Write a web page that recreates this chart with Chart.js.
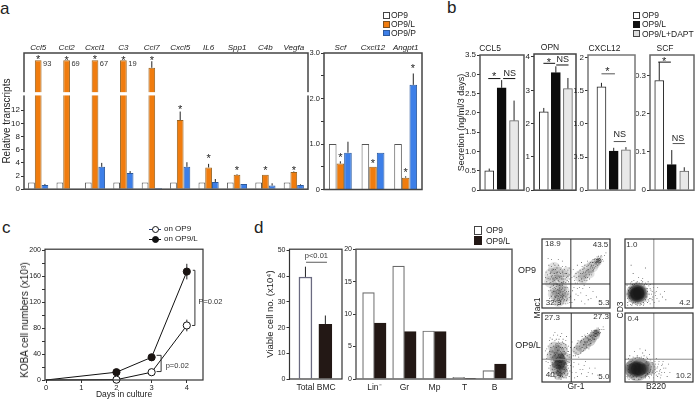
<!DOCTYPE html>
<html>
<head>
<meta charset="utf-8">
<title>Figure</title>
<script src="https://cdn.jsdelivr.net/npm/chart.js"></script>
<style>
html,body{margin:0;padding:0;background:#fff;overflow:hidden}
#page{position:relative;width:695px;height:400px;font-family:"Liberation Sans",Arial,sans-serif;color:#222}
#page canvas{position:absolute}
.lab{position:absolute;line-height:1;white-space:nowrap}
.sw{position:absolute;box-sizing:border-box}
</style>
</head>
<body>
<div id="page"></div>
<script>
// panel a
var genes = ["Ccl5","Ccl2","Cxcl1","C3","Ccl7","Cxcl5","IL6","Spp1","C4b","Vegfa"];
var a_op9 = [1,1,1,1,1,1,1,1,1,1];
var a_op9l = [19.6,19.6,19.6,19.6,18.45,10.5,3.3,2.2,2.2,2.6]; // first ones run off the broken axis
var a_op9p = [0.65,0.05,3.4,2.45,0.2,3.4,1.1,0.8,0.55,0.65];
var a_op9l_err = [null,null,null,null,19.45,11.8,3.85,2.3,null,2.7];
var a_op9p_err = [0.8,null,4.0,2.75,null,4.1,1.55,null,0.9,0.75];
var a_stars = [20.1,20,20.1,20,20,12.5,5,3.2,3.2,3.3];
var a_folds = ["93","69","67","19"];
var a_ticks = [0,2,4,6,8,10,12];

var genes2 = ["Scf","Cxcl12","Angpt1"];
var a2_op9 = [1,1,1];
var a2_op9l = [0.57,0.5,0.26];
var a2_op9p = [0.81,0.81,2.3];
var a2_op9l_err = [0.62,null,0.29];
var a2_op9p_err = [1.05,null,2.55];
var a2_stars_l = [0.75,0.62,0.42];
var a2_ticks = [0,0.5,1,1.5,2,2.5,3];
var a2_labels = ["0","","1.0","","2.0","","3.0"];

// panel b
var b_ccl5 = [0.5,2.65,1.8], b_ccl5_err = [0.56,2.85,2.32];
var b_opn = [2.35,3.53,3.05], b_opn_err = [2.47,3.72,3.37];
var b_cxcl12 = [1.56,0.59,0.61], b_cxcl12_err = [1.62,0.64,0.65];
var b_scf = [0.287,0.067,0.05], b_scf_err = [0.335,0.105,0.06];

// panel c
var days = [0,2,3,4];
var c_op9 = [0,0.5,12,84], c_op9_hi = [null,null,null,93], c_op9_lo = [null,null,null,75];
var c_op9l = [0,12,35,167], c_op9l_hi = [null,null,null,179], c_op9l_lo = [null,null,null,155];

// panel d
var d_total_op9 = [39.7], d_total_op9l = [21.3];
var d_total_op9_err = [43.7], d_total_op9l_err = [24.7];
var lineages = ["Lin\u207B","Gr","Mp","T","B"];
var d_op9 = [13.3,17.4,7.4,0.25,1.3];
var d_op9l = [8.6,7.3,7.3,0.1,2.3];

// flow plots, read in percent of the plot box
var flow1 = [[12,30],[15,22],[18,12],[20,28],[22,18],[24,8],[25,25],[27,15],[28,32],[30,20],[32,10],[33,26],[35,16],[37,30],[38,7],[14,17],[17,33],[19,6],[21,22],[23,13],[26,20],[29,27],[31,14],[34,22],[36,11],[39,24],[10,25],[13,10],[16,28],[28,9],[24,17],[26,12],[22,25],[30,16],[25,5],[20,15],
[8,48],[10,55],[12,42],[14,60],[16,38],[18,50],[20,44],[22,58],[24,40],[26,52],[28,46],[30,60],[32,38],[34,50],[36,44],[38,55],[11,36],[15,47],[19,62],[23,35],[27,56],[31,42],[35,37],[6,52],[40,48],[17,56],[21,51],[13,52],[25,46],[29,37],
[48,40],[50,50],[52,36],[54,46],[56,55],[58,42],[60,50],[62,58],[64,44],[66,54],[68,62],[70,48],[72,60],[74,66],[76,56],[78,64],[80,70],[82,62],[84,72],[86,66],[88,74],[84,66],[82,68],[80,64],[86,70],[78,68],[76,62],[74,58],[72,52],[70,64],[68,56],[66,60],[64,52],[62,46],[60,56],[92,76],[90,68],[46,56],[44,44],[83,75],[85,69],[81,66],[79,60],[75,70],
[45,25],[50,20],[55,30],[48,12],[60,28],[65,18],[70,30],[72,14],[58,10],[52,28]];
var flow1b = [[11,14],[13,26],[15,8],[16,19],[17,24],[18,30],[19,17],[20,9],[21,31],[22,11],[23,27],[24,21],[25,14],[26,29],[27,6],[27,23],[28,18],[29,12],[30,33],[31,24],[31,7],[32,18],[33,12],[34,30],[35,6],[36,24],[37,13],[38,20],[40,15],[41,8],[23,4],[19,24],[22,34],[26,33],[30,29],
[5,44],[7,38],[9,43],[10,62],[12,50],[13,37],[14,45],[15,55],[16,42],[17,64],[18,40],[19,47],[20,56],[21,36],[22,43],[23,52],[24,62],[25,38],[26,44],[27,50],[28,58],[29,42],[30,52],[31,36],[32,46],[33,56],[34,42],[35,60],[36,50],[37,40],[38,46],[39,38],[40,58],[41,42],[24,70],[14,70],[30,68],[9,72],
[47,46],[49,36],[51,44],[53,52],[55,40],[57,50],[59,38],[59,60],[61,52],[63,40],[63,62],[65,48],[67,44],[67,68],[69,52],[71,58],[71,66],[73,48],[73,62],[75,54],[75,66],[77,58],[77,70],[79,66],[81,70],[81,74],[83,64],[83,70],[85,72],[85,64],[87,68],[87,76],[89,70],[80,67],[82,71],[84,69],[78,72],[86,74],[83,68],[81,68],[94,80],[70,42],[66,40],[58,66],[52,62],
[44,8],[47,30],[53,18],[57,22],[63,6],[68,12],[75,24],[80,16],[62,33],[42,17]];
var flow3 = [[10,20],[12,35],[14,12],[15,28],[16,45],[18,8],[18,22],[19,38],[20,55],[21,14],[22,30],[23,46],[24,6],[24,24],[25,62],[26,18],[26,36],[27,50],[28,10],[28,28],[29,42],[30,20],[30,58],[31,34],[32,14],[32,48],[33,26],[34,6],[34,40],[35,54],[36,18],[36,32],[37,10],[38,44],[38,24],[40,36],[41,16],[8,40],[9,52],[11,60],[13,50],[15,62],[17,68],[21,62],[6,30],[5,45],[23,68],[27,66],[31,62],[35,60],[39,52],[24,38],[26,28],[22,20],[28,16],[30,40],[27,8],[24,15],[20,30],[33,18],
[46,38],[48,50],[50,42],[52,56],[54,36],[56,48],[58,60],[60,44],[62,54],[64,66],[66,50],[68,60],[70,68],[72,56],[74,64],[76,72],[78,66],[80,74],[82,68],[84,76],[79,70],[77,62],[75,68],[81,78],[73,74],[71,62],[69,54],[67,64],[65,58],[63,48],[61,62],[86,72],[90,80],[44,58],
[46,22],[50,14],[54,26],[58,12],[62,24],[66,8],[70,20],[48,6],[56,18],[74,12]];
var flow3b = [[9,28],[10,14],[11,44],[12,24],[13,8],[13,40],[14,56],[15,18],[15,36],[16,26],[17,14],[17,32],[17,52],[18,42],[19,18],[19,28],[19,60],[20,6],[20,40],[21,24],[21,34],[21,50],[22,12],[22,42],[22,56],[23,16],[23,26],[23,36],[24,30],[24,52],[24,58],[25,10],[25,20],[25,40],[25,46],[26,6],[26,24],[26,32],[26,56],[27,14],[27,22],[27,36],[27,44],[28,4],[28,20],[28,34],[28,54],[29,12],[29,26],[29,48],[30,8],[30,32],[30,50],[31,18],[31,26],[31,44],[32,6],[32,22],[32,38],[32,56],[33,12],[33,34],[33,44],[34,28],[34,16],[34,50],[35,10],[35,22],[35,42],[36,26],[36,6],[36,48],[37,16],[37,38],[38,12],[38,30],[39,20],[39,44],[40,8],[40,28],[41,40],[42,24],[42,50],[7,34],[7,48],[12,64],[19,72],[29,70],[36,66],
[47,44],[49,38],[51,48],[53,40],[53,60],[55,52],[57,42],[57,58],[59,50],[59,66],[61,54],[61,46],[63,58],[63,68],[65,52],[65,64],[67,58],[67,70],[69,62],[69,48],[71,66],[71,56],[73,60],[73,68],[75,62],[75,72],[77,68],[77,74],[79,66],[79,74],[81,72],[81,68],[83,72],[83,78],[85,76],[85,70],[80,70],[78,70],[76,68],[88,76],[91,76],[72,72],
[44,14],[47,28],[52,8],[60,18],[64,30],[68,14],[78,20],[82,10]];
var flow2 = [[4,8],[6,30],[7,14],[8,36],[8,5],[10,38],[11,6],[13,40],[16,5],[18,38],[22,4],[24,40],[28,6],[30,36],[33,8],[35,32],[36,14],[38,26],[39,20],[40,12],[42,30],[43,8],[45,18],[46,24],[47,14],[48,30],[50,10],[52,20],[55,16],[58,24],[60,12],[37,34],[34,38],[26,43],[20,44],[12,50],[30,58],[9,62],[3,20],[3,33],[31,10],[34,20],[33,28],[6,10],[5,25],
[9,10],[10,30],[11,34],[12,8],[14,34],[15,8],[17,36],[19,7],[21,36],[23,6],[25,36],[27,8],[28,32],[30,12],[31,28],[32,16],[33,24],[34,12],[36,20],[37,28],[35,10],[29,34],[26,38],[16,36],[12,32],[8,28],[7,22],[7,18],[6,16],[40,24],[41,16],[44,22],[38,14],[32,34],[24,5],[18,4],[10,4],[4,14],[4,4],[27,4],[37,6]];
var flow4 = [[3,8],[4,24],[5,34],[6,4],[7,38],[10,6],[12,36],[14,4],[18,38],[22,4],[26,42],[30,6],[32,36],[35,8],[37,32],[39,10],[40,28],[42,6],[43,22],[45,14],[46,34],[48,8],[49,26],[51,16],[53,10],[54,24],[56,30],[58,14],[60,20],[62,8],[64,26],[66,14],[38,18],[36,40],[30,46],[22,48],[14,44],[44,30],[36,14],[34,24],[41,16],[47,20],
[8,10],[9,30],[11,32],[12,8],[15,34],[17,7],[21,35],[24,6],[27,34],[30,9],[32,30],[33,12],[35,26],[37,16],[39,22],[40,14],[41,26],[43,12],[44,18],[45,26],[46,10],[47,15],[48,22],[50,12],[50,30],[52,18],[54,14],[55,26],[57,20],[52,6],[28,38],[24,36],[18,36],[6,14],[6,26],[5,18],[4,6],[12,4],[20,4],[36,6],[33,34],[38,32]];
var flow1_haze = [[22,18,7],[28,14,7],[26,24,7],[20,28,6],[32,24,6],[24,10,6],[30,30,5],[16,20,5],[36,16,5],[14,48,7],[22,50,7],[30,46,7],[36,52,5],[12,38,6],[24,40,6],[18,58,6],[56,46,6],[62,50,6],[68,56,6],[74,60,6],[78,64,5],[82,67,4],[84,70,3],[83,69,2.5],[84,68,2.5],[60,42,5],[70,50,5]];
var flow3_haze = [[24,30,8],[26,20,8],[22,42,8],[28,48,7],[18,50,6],[34,34,6],[30,14,6],[20,20,6],[26,28,6],[27,34,5],[14,38,5],[24,10,5],[26,24,5],[28,30,6],[24,36,6],[28,18,5],[22,26,5],[30,24,5],[58,52,6],[64,56,6],[70,60,6],[74,64,5],[78,68,5],[80,71,4],[81,72,3],[80,72,2.5],[52,46,5]];
var flow2_haze = [[18,21,11],[18,21,9.5],[20,21,8.5],[16,21,8.5],[18,22,7.5],[18,20,7.5],[21,22,6.5],[15,20,6.5],[18,21,6.5],[18,21,6],[20,22,5.5],[16,20,5.5]];
var flow4_haze = [[18,19,12],[24,20,10],[12,19,9],[18,19,8.5],[14,19,7],[22,19,7],[18,19,7],[10,19,5.5],[26,19,5.5],[14,20,6],[22,18,6],[18,19,6],[35,20,7]];

Chart.defaults.font.family = '"Liberation Sans", Arial, sans-serif';
Chart.defaults.font.size = 8;
Chart.defaults.color = "#222";

var page = document.getElementById("page");

function label(text, x, y, size, extra) {
  var d = document.createElement("div");
  d.className = "lab";
  d.textContent = text;
  d.style.left = x + "px";
  d.style.top = y + "px";
  d.style.fontSize = size + "px";
  if (extra) d.style.cssText += extra;
  page.appendChild(d);
}
function swatch(x, y, w, h, fill, edge, radius) {
  var d = document.createElement("div");
  d.className = "sw";
  d.style.cssText = "left:" + x + "px;top:" + y + "px;width:" + w + "px;height:" + h + "px;background:" + fill +
    (edge ? ";border:1px solid " + edge : "") + (radius ? ";border-radius:50%" : "");
  page.appendChild(d);
}

// frame, error bars, stars, lines and small texts, all placed through the chart scales
function extras(spec) {
  return {
    id: "extras",
    beforeDatasetsDraw: function (chart) {
      var ctx = chart.ctx, ys = chart.scales.y;
      ctx.save();
      chart.data.datasets.forEach(function (ds, k) {
        if (!ds.errHi) return;
        var meta = chart.getDatasetMeta(k);
        ctx.strokeStyle = "#222";
        ctx.lineWidth = 1;
        ds.errHi.forEach(function (hi, i) {
          if (hi === null) return;
          var lo = ds.errLo ? ds.errLo[i] : ds.data[i].y === undefined ? ds.data[i] : ds.data[i].y;
          ctx.beginPath();
          ctx.moveTo(meta.data[i].x, ys.getPixelForValue(lo));
          ctx.lineTo(meta.data[i].x, ys.getPixelForValue(hi));
          ctx.stroke();
        });
      });
      ctx.restore();
    },
    afterDatasetsDraw: function (chart) {
      var ctx = chart.ctx, a = chart.chartArea, xs = chart.scales.x, ys = chart.scales.y;
      ctx.save();
      (spec.lines || []).forEach(function (l) {
        ctx.strokeStyle = l.color || "#333";
        ctx.lineWidth = l.width || 1;
        ctx.beginPath();
        l.pts.forEach(function (p, i) {
          var px = xs.getPixelForValue(p[0]), py = ys.getPixelForValue(p[1]);
          if (i) ctx.lineTo(px, py); else ctx.moveTo(px, py);
        });
        ctx.stroke();
      });
      if (spec.frame) {
        ctx.strokeStyle = spec.frame;
        ctx.lineWidth = spec.frameWidth || 1.5;
        ctx.strokeRect(a.left, a.top, a.right - a.left, a.bottom - a.top);
      }
      if (spec.gap) {
        ctx.fillStyle = "#fff";
        var g0 = ys.getPixelForValue(spec.gap[1]), g1 = ys.getPixelForValue(spec.gap[0]);
        ctx.fillRect(a.left - 2, g0, a.right - a.left + 4, g1 - g0);
      }
      ctx.textAlign = "center";
      ctx.textBaseline = "middle";
      chart.data.datasets.forEach(function (ds, k) {
        if (!ds.stars) return;
        var meta = chart.getDatasetMeta(k);
        ctx.fillStyle = "#222";
        ctx.font = '11px "Liberation Sans"';
        ds.stars.forEach(function (v, i) {
          if (v !== null) ctx.fillText("*", meta.data[i].x, ys.getPixelForValue(v) + 3);
        });
      });
      (spec.notes || []).forEach(function (n) {
        ctx.fillStyle = n.color || "#222";
        ctx.font = (n.size || 8) + 'px "Liberation Sans"';
        ctx.textAlign = n.align || "center";
        var dy = n.text === "*" ? 3 : 0;
        ctx.fillText(n.text, xs.getPixelForValue(n.x), ys.getPixelForValue(n.y) + dy);
      });
      ctx.restore();
    }
  };
}

function yAxis(min, max, ticks, labels, width, extra, tickSize) {
  var o = {
    min: min, max: max,
    afterFit: function (s) { s.width = width; },
    afterBuildTicks: function (s) { s.ticks = ticks.map(function (v) { return { value: v }; }); },
    border: { display: false },
    grid: { drawOnChartArea: false, drawTicks: true, tickLength: 3, color: "#333", lineWidth: 1 },
    ticks: { autoSkip: false, padding: 1, maxRotation: 0, font: { size: tickSize || 8 }, callback: function (v, i) { return labels[i]; } }
  };
  return Object.assign(o, extra || {});
}

// plot = [left, top, right, bottom] in page pixels, m = margins round it
function panel(plot, m, cfg, spec) {
  var c = document.createElement("canvas");
  var w = plot[2] - plot[0] + m.l + m.r, h = plot[3] - plot[1] + m.t + m.b;
  c.width = Math.round(w); c.height = Math.round(h);
  c.style.left = (plot[0] - m.l) + "px";
  c.style.top = (plot[1] - m.t) + "px";
  page.appendChild(c);
  var sc = cfg.options.scales, xs = sc.x;
  var xOn = xs.display !== false, top = xOn && xs.position === "top";
  if (xOn) xs.afterFit = function (s) { s.height = top ? m.t : m.b; };
  cfg.options.responsive = false;
  cfg.options.animation = false;
  cfg.options.devicePixelRatio = 1;
  var titleH = cfg.options.plugins && cfg.options.plugins.title ? 11.2 : 0;
  cfg.options.layout = { autoPadding: false, padding: {
    left: sc.y.display === false ? m.l : 0,
    right: m.r,
    top: top ? 0 : m.t - titleH,
    bottom: xOn && !top ? 0 : m.b
  } };
  cfg.options.plugins = Object.assign({ legend: { display: false }, tooltip: { enabled: false } }, cfg.options.plugins || {});
  cfg.plugins = [extras(spec || {})];
  return new Chart(c, cfg);
}

function pairs(vals) { return vals.map(function (v, i) { return { x: i, y: v }; }); }
function title(t) {
  return { display: true, text: t, font: { size: 8.5, weight: "normal" }, color: "#222", padding: { top: 0, bottom: 1 } };
}
var NO_GRID = { display: false, drawTicks: false, tickLength: 0, offset: false };

var ORANGE = "#f07c0e", ORANGE_E = "#9a6420", BLUE = "#3d7fe8", BLUE_E = "#2c5a9e";

// ---- a, left part
panel([24, 53, 308, 191], { l: 24, r: 2, t: 16, b: 4 }, {
  type: "bar",
  data: { labels: genes, datasets: [
    { data: a_op9, backgroundColor: "#fff", borderColor: "#555", borderWidth: 1 },
    { data: a_op9l, backgroundColor: ORANGE, borderColor: ORANGE_E, borderWidth: 1, errHi: a_op9l_err, stars: a_stars },
    { data: a_op9p, backgroundColor: BLUE, borderColor: BLUE_E, borderWidth: 1, errHi: a_op9p_err }
  ] },
  options: {
    barPercentage: 1, categoryPercentage: 0.71,
    scales: {
      x: { position: "top", offset: true, grid: NO_GRID, border: { display: false },
           ticks: { padding: 0, maxRotation: 0, autoSkip: false, font: { size: 8, style: "italic" } } },
      y: yAxis(0, 20.7, a_ticks, a_ticks.map(String), 24, {
        title: { display: true, text: "Relative transcripts", font: { size: 10 }, padding: { top: 1, bottom: 0 }, color: "#222" } })
    }
  }
}, { frame: "#444", gap: [14.25, 14.75],
     notes: a_folds.map(function (t, i) { return { text: t, x: i + 0.17, y: 19.1, size: 7.5, align: "left", color: "#333" }; }) });

// ---- a, right part
panel([324.3, 53, 422.3, 191], { l: 14, r: 2, t: 16, b: 4 }, {
  type: "bar",
  data: { labels: genes2, datasets: [
    { data: a2_op9, backgroundColor: "#fff", borderColor: "#555", borderWidth: 1 },
    { data: a2_op9l, backgroundColor: ORANGE, borderColor: ORANGE_E, borderWidth: 1, errHi: a2_op9l_err, stars: a2_stars_l },
    { data: a2_op9p, backgroundColor: BLUE, borderColor: BLUE_E, borderWidth: 1, errHi: a2_op9p_err }
  ] },
  options: {
    barPercentage: 1, categoryPercentage: 0.7,
    scales: {
      x: { position: "top", offset: true, grid: NO_GRID, border: { display: false },
           ticks: { padding: 0, maxRotation: 0, autoSkip: false, font: { size: 8, style: "italic" } } },
      y: yAxis(0, 3, a2_ticks, a2_labels, 14, null, 7.5)
    }
  }
}, { frame: "#444", notes: [{ text: "*", x: 2.22, y: 2.72, size: 11 }] });

// ---- b
function secretion(plot, vals, err, ymax, ticks, labels, xr, name, frame, ml, spec, yTitle) {
  var y = yAxis(0, ymax, ticks, labels, ml, yTitle ? { title: { display: true, text: yTitle, font: { size: 9 }, padding: 0, color: "#222" } } : {});
  spec.frame = frame;
  panel(plot, { l: ml, r: 1, t: 15, b: 4 }, {
    type: "bar",
    data: { datasets: [{
      data: pairs(vals), errHi: err, barThickness: 9,
      backgroundColor: ["#fff", "#0c0c0c", "#e8e8e8"],
      borderColor: ["#222", "#0c0c0c", "#666"], borderWidth: 1
    }] },
    options: {
      plugins: { title: title(name) },
      scales: { x: { type: "linear", offset: false, display: false, min: xr[0], max: xr[1] }, y: y }
    }
  }, spec);
}
secretion([480, 55.3, 524.3, 192.7], b_ccl5, b_ccl5_err, 3.5, [0,0.5,1,1.5,2,2.5,3,3.5],
  ["0","0.5","1.0","1.5","2.0","2.5","3.0","3.5"], [-0.745, 2.8], "CCL5", "#555", 24, {
    lines: [{ pts: [[-0.08,2.89],[0.9,2.89]], color: "#111" }, { pts: [[1.12,2.89],[2.1,2.89]], color: "#111" }],
    notes: [{ text: "*", x: 0.4, y: 3.02, size: 11 }, { text: "NS", x: 1.65, y: 3.02, size: 9 }]
  }, "Secretion (ng/ml/3 days)");
secretion([534, 54.3, 575.7, 192.7], b_opn, b_opn_err, 4.09, [0,1,2,3,4],
  ["0","1","2","3","4"], [-0.81, 2.67], "OPN", "#444", 10, {
    lines: [{ pts: [[-0.03,3.81],[0.94,3.81]], color: "#111" }, { pts: [[1.03,3.76],[2.05,3.76]], color: "#111" }],
    notes: [{ text: "*", x: 0.42, y: 3.92, size: 11 }, { text: "NS", x: 1.58, y: 3.92, size: 9 }]
  });
secretion([588.3, 55.3, 635, 192.7], b_cxcl12, b_cxcl12_err, 2.04, [0,0.5,1,1.5,2],
  ["0","0.5","1.0","1.5","2"], [-1.1, 2.74], "CXCL12", "#777", 14, {
    lines: [{ pts: [[0,1.756],[1.1,1.756]], color: "#555" }, { pts: [[1,0.734],[2,0.734]], color: "#555" }],
    notes: [{ text: "*", x: 0.49, y: 1.825, size: 11 }, { text: "NS", x: 1.5, y: 0.843, size: 9 }]
  });
secretion([650, 55.3, 694, 192.7], b_scf, b_scf_err, 0.3536, [0,0.1,0.2,0.3],
  ["0","0.1","0.2","0.3"], [-0.74, 2.78], "SCF", "#666", 14, {
    lines: [{ pts: [[-0.08,0.335],[0.93,0.335]], color: "#111" }, { pts: [[1.07,0.122],[2.05,0.122]], color: "#555" }],
    notes: [{ text: "*", x: 0.4, y: 0.3425, size: 11 }, { text: "NS", x: 1.5, y: 0.136, size: 9 }]
  });

// ---- c
function curve(vals) { return vals.map(function (v, i) { return { x: days[i], y: v }; }); }
var c_yticks = [0,20,40,60,80,100,120,140,160,180,200];
panel([44.7, 247.7, 203, 379.7], { l: 30, r: 36, t: 4, b: 20 }, {
  type: "line",
  data: { datasets: [
    { data: curve(c_op9), errHi: c_op9_hi, errLo: c_op9_lo, borderColor: "#111", borderWidth: 1, tension: 0, clip: false,
      pointRadius: [0,3.6,3.6,3.6], pointBackgroundColor: "#fff", pointBorderColor: "#111", pointBorderWidth: 1 },
    { data: curve(c_op9l), errHi: c_op9l_hi, errLo: c_op9l_lo, borderColor: "#111", borderWidth: 1, tension: 0, clip: false,
      pointRadius: [0,3.6,3.6,3.6], pointBackgroundColor: "#1a1412", pointBorderColor: "#1a1412", pointBorderWidth: 1 }
  ] },
  options: {
    scales: {
      x: { type: "linear", min: -0.03, max: 4.46,
           afterBuildTicks: function (s) { s.ticks = [0,1,2,3,4].map(function (v) { return { value: v }; }); },
           border: { display: false },
           grid: { drawOnChartArea: false, tickLength: 3, color: "#333" },
           ticks: { padding: 0, autoSkip: false, maxRotation: 0, font: { size: 7.5 }, callback: function (v) { return v; } },
           title: { display: true, text: "Days in culture", font: { size: 8.5 }, padding: 0, color: "#222" } },
      y: yAxis(0, 201.5, c_yticks, c_yticks.map(function (v) { return v % 40 ? "" : String(v); }), 30, null, 7)
    }
  }
}, { frame: "#333", frameWidth: 1.2,
     lines: [
       { pts: [[4.17,169],[4.23,169],[4.23,84],[4.15,84]], color: "#333" },
       { pts: [[3.14,38],[3.27,38],[3.27,13],[3.14,13]], color: "#333" }
     ],
     notes: [
       { text: "P=0.02", x: 4.33, y: 121, size: 7.5, align: "left", color: "#333" },
       { text: "p=0.02", x: 3.4, y: 22, size: 7.5, align: "left", color: "#333" }
     ] });

// ---- d, total
panel([289, 247.7, 341.7, 379], { l: 24.5, r: 1, t: 4, b: 14 }, {
  type: "bar",
  data: { datasets: [
    { data: [{ x: 0, y: d_total_op9[0] }], errHi: d_total_op9_err, barThickness: 13, backgroundColor: "#fff", borderColor: "#6a6a80", borderWidth: 1.5 },
    { data: [{ x: 1, y: d_total_op9l[0] }], errHi: d_total_op9l_err, barThickness: 13, backgroundColor: "#231815", borderColor: "#231815", borderWidth: 1 }
  ] },
  options: {
    scales: {
      x: { type: "linear", offset: false, stacked: true, min: -0.8, max: 1.835,
           afterBuildTicks: function (s) { s.ticks = [{ value: 0.53 }]; },
           border: { display: false }, grid: NO_GRID,
           ticks: { padding: 4, autoSkip: false, maxRotation: 0, font: { size: 8.5 }, callback: function () { return "Total BMC"; } } },
      y: yAxis(0, 50.5, [0,10,20,30,40,50], ["0","10","20","30","40","50"], 24.5, {
        title: { display: true, text: "Viable cell no. (x10\u2074)", font: { size: 9.5 }, padding: 0, color: "#222" } }, 7)
    }
  }
}, { frame: "#333", frameWidth: 1.2,
     lines: [{ pts: [[0.03,45.4],[1.08,45.4]], color: "#777", width: 1.2 }],
     notes: [{ text: "p<0.01", x: 0.55, y: 47.7, size: 7.5, color: "#333" }] });

// ---- d, lineages
panel([355.7, 247.7, 511.3, 379], { l: 14, r: 1, t: 4, b: 14 }, {
  type: "bar",
  data: { datasets: [
    { data: pairs(d_op9), barThickness: 11.7, backgroundColor: "#fff", borderColor: "#6a6a6a", borderWidth: 1.2 },
    { data: pairs(d_op9l), barThickness: 11.7, backgroundColor: "#231815", borderColor: "#231815", borderWidth: 1 }
  ] },
  options: {
    scales: {
      x: { type: "linear", offset: false, min: -0.61, max: 4.58,
           afterBuildTicks: function (s) { s.ticks = lineages.map(function (n, i) { return { value: i }; }); },
           border: { display: false }, grid: NO_GRID,
           ticks: { padding: 4, autoSkip: false, maxRotation: 0, font: { size: 8.5 }, callback: function (v) { return lineages[v]; } } },
      y: yAxis(0, 20, [0,5,10,15,20], ["0","5","10","15","20"], 14, null, 7)
    }
  }
}, { frame: "#555", frameWidth: 1.4 });

// ---- flow plots
function flow(plot, specks, haze, hazeAlpha, vLine, hLine, vColor, hColor, notes) {
  panel(plot, { l: 2, r: 1, t: 2, b: 2 }, {
    type: "scatter",
    data: { datasets: [
      { type: "bubble", data: haze.map(function (p) { return { x: p[0], y: p[1], r: p[2] }; }),
        backgroundColor: "rgba(20,20,20," + hazeAlpha + ")", borderWidth: 0 },
      { data: specks.map(function (p) { return { x: p[0], y: p[1] }; }),
        pointStyle: "rect", pointRadius: 0.6, backgroundColor: "rgba(20,20,20,0.7)", borderWidth: 0 }
    ] },
    options: { scales: {
      x: { type: "linear", display: false, min: 0, max: 100 },
      y: { type: "linear", display: false, min: 0, max: 100 }
    } }
  }, { frame: "#333", frameWidth: 1.2,
       lines: [
         { pts: [[vLine,0],[vLine,100]], color: vColor, width: 1 },
         { pts: [[0,hLine],[100,hLine]], color: hColor, width: 1 }
       ],
       notes: notes });
}
function pct(text, x, y) { return { text: text, x: x, y: y, size: 8, color: "#333" }; }
flow([541.7, 239.3, 609.3, 308.3], flow1.concat(flow1b), flow1_haze, 0.13, 42.4, 34.8, "#333", "#333",
  [pct("18.9",16,92.7), pct("43.5",86,92), pct("32.3",17,7), pct("5.3",91,8)]);
flow([541.7, 313, 610, 381.7], flow3.concat(flow3b), flow3_haze, 0.2, 43, 33, "#333", "#888",
  [pct("27.3",15,93), pct("27.3",87,94), pct("40.4",17,10), pct("5.0",91,7.5)]);
flow([625, 239.3, 693, 308.3], flow2, flow2_haze, 0.28, 42.4, 34.8, "#888", "#333",
  [pct("1.0",10,92), pct("4.2",88,7)]);
flow([625, 313, 693, 381.7], flow4, flow4_haze, 0.28, 42.4, 33, "#888", "#888",
  [pct("0.4",12,92), pct("10.2",86,9)]);

// ---- page texts and legends
label("a", 0, 0, 17);
label("b", 447, -1, 17);
label("c", 2, 219, 17);
label("d", 254, 219, 17);

swatch(383, 12, 6.5, 6.5, "#fff", "#444");
swatch(383, 21, 6.5, 6.5, ORANGE, "#7a5020");
swatch(383, 29.5, 6.5, 6.5, BLUE, BLUE_E);
label("OP9", 391, 11, 8.5);
label("OP9/L", 391, 20, 8.5);
label("OP9/P", 391, 28.5, 8.5);

swatch(633, 12, 7, 6.5, "#fff", "#333");
swatch(633, 21, 7, 6.5, "#111", "#111");
swatch(633, 30, 7, 6.5, "#ddd", "#444");
label("OP9", 642, 11, 8.5);
label("OP9/L", 642, 20, 8.5);
label("OP9/L+DAPT", 642, 29.5, 8.5);

swatch(473.7, 226, 8.5, 8.5, "#fff", "#444");
swatch(473.7, 236, 8.5, 8.5, "#231815", "#231815");
label("OP9", 486, 226, 8.5);
label("OP9/L", 486, 236.5, 8.5);

// c legend
swatch(149, 228.5, 12, 1, "#2c3f78");
swatch(151.5, 225.5, 7.5, 7.5, "#fff", "#111", true);
swatch(149, 238.5, 12, 1, "#111");
swatch(151.5, 235.5, 7.5, 7.5, "#111", "#111", true);
label("on OP9", 164, 225, 8);
label("on OP9/L", 164, 235, 8);
label("KOBA cell numbers (x10\u00B3)", 25, 320, 10, "transform:translate(-50%,-50%) rotate(-90deg);");

label("OP9", 527, 270, 9, "transform:translate(-50%,-50%);");
label("OP9/L", 528, 345, 9, "transform:translate(-50%,-50%);");
label("Mac1", 536.7, 308, 8.5, "transform:translate(-50%,-50%) rotate(-90deg);");
label("CD3", 620, 310, 8.5, "transform:translate(-50%,-50%) rotate(-90deg);");
label("Gr-1", 576, 386, 8.5, "transform:translate(-50%,-50%);");
label("B220", 656, 386, 8.5, "transform:translate(-50%,-50%);");
</script>
</body>
</html>
